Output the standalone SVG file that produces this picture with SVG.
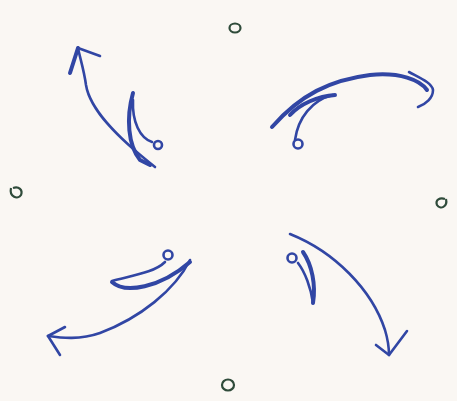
<svg xmlns="http://www.w3.org/2000/svg" width="457" height="401" viewBox="0 0 457 401">
<style>
.ink{fill:none;stroke:#3146a4;stroke-width:2.6;stroke-linecap:round;stroke-linejoin:round}
.thick{stroke-width:4}
.dot{fill:none;stroke:#2f4b3a;stroke-width:2.2}
</style>
<rect width="457" height="401" fill="#faf7f3"/>
<g id="marks">
<g id="mark-top"><ellipse class="dot" cx="235" cy="28" rx="5.5" ry="4.5"/></g>
<g id="mark-left"><path class="dot" d="M11,188 C9,197 18,200 21,195 C23,190 19,186 13,188"/></g>
<g id="mark-right"><path class="dot" d="M446,199 C448,207 440,210 437,205 C435,200 440,197 445,199"/></g>
<g id="mark-bottom"><ellipse class="dot" cx="228" cy="385" rx="6" ry="5.5"/></g>
</g>
<g id="connectors">
<g id="arrow-topleft">
<path class="ink" d="M155,167 C118,138 90,110 86,85 C84,70 80,58 78,48"/>
<path class="ink thick" d="M78,48 L70,73"/>
<path class="ink" d="M78,48 L100,56"/>
<path class="ink thick" d="M133,93 C126,118 128,145 140,160 L150,165"/>
<path class="ink" d="M133,100 C132,122 140,138 152,142"/>
<circle class="ink" cx="158" cy="145" r="4"/>
</g>
<g id="arrow-topright">
<path class="ink thick" d="M272,127 C300,95 330,80 370,75 C400,72 420,80 427,90"/>
<path class="ink" d="M409,72 C420,78 432,83 433,90 C433,98 426,104 418,107"/>
<path class="ink thick" d="M335,95 C318,96 300,104 290,115"/>
<path class="ink" d="M333,95 C312,100 298,118 295,140"/>
<circle class="ink" cx="298" cy="144" r="4.5"/>
</g>
<g id="arrow-bottomleft">
<path class="ink" d="M190,260 C175,290 140,318 100,333 C80,340 62,338 48,336"/>
<path class="ink" d="M48,336 L65,327"/>
<path class="ink" d="M48,336 L60,355"/>
<path class="ink" d="M112,281 C135,275 155,272 165,262"/>
<path class="ink thick" d="M112,282 C125,294 160,288 190,262"/>
<circle class="ink" cx="168" cy="255" r="4.5"/>
</g>
<g id="arrow-bottomright">
<path class="ink" d="M290,234 C335,252 372,290 385,330 C388,340 389,348 389,355"/>
<path class="ink" d="M376,345 L389,355 L407,331"/>
<path class="ink thick" d="M303,252 C312,265 316,285 313,303"/>
<path class="ink" d="M298,263 C305,272 311,288 313,303"/>
<circle class="ink" cx="292" cy="258" r="4.5"/>
</g>
</g>
</svg>
